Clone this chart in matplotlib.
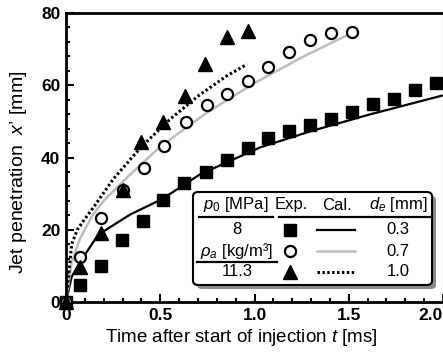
"""
Jet penetration vs time after start of injection
"""
import matplotlib
matplotlib.use('Agg')
import matplotlib.pyplot as plt
from matplotlib.lines import Line2D
from matplotlib.patches import FancyBboxPatch

plt.rcParams['font.family'] = ['Liberation Sans', 'DejaVu Sans']
plt.rcParams['mathtext.fontset'] = 'custom'
plt.rcParams['mathtext.rm'] = 'Liberation Sans'
plt.rcParams['mathtext.it'] = 'Liberation Sans:italic'

# Experimental data, d_e = 0.3 mm (squares)
t_sq = [0, 0.074, 0.185, 0.296, 0.407, 0.513, 0.624, 0.741, 0.852, 0.963,
        1.074, 1.185, 1.296, 1.407, 1.519, 1.630, 1.741, 1.852, 1.963]
x_sq = [0, 4.7, 10.0, 17.2, 22.5, 28.3, 33.0, 36.0, 39.2, 42.5,
        45.3, 47.2, 48.9, 50.6, 52.5, 54.7, 56.1, 58.6, 60.6]

# Experimental data, d_e = 0.7 mm (circles)
t_ci = [0, 0.074, 0.185, 0.300, 0.413, 0.519, 0.635, 0.746, 0.852, 0.963,
        1.074, 1.185, 1.296, 1.407, 1.519]
x_ci = [0, 12.5, 23.2, 31.0, 37.2, 43.3, 49.7, 54.4, 57.5, 61.1,
        65.0, 69.2, 72.5, 74.4, 74.7]

# Experimental data, d_e = 1.0 mm (triangles)
t_tr = [0, 0.074, 0.185, 0.300, 0.400, 0.513, 0.630, 0.735, 0.852, 0.963]
x_tr = [0, 9.7, 19.2, 31.0, 44.2, 49.7, 57.0, 65.8, 73.3, 75.0]

# Calculated curves
t_c03 = [0, 0.03, 0.074, 0.17, 0.34, 0.51, 0.71, 1.03, 1.3, 1.61, 2.0]
x_c03 = [0, 7.0, 11.0, 18.6, 24.2, 28.5, 35.3, 42.8, 47.3, 51.9, 57.2]
t_c07 = [0, 0.03, 0.074, 0.14, 0.2, 0.32, 0.5, 0.75, 1.0, 1.25, 1.52]
x_c07 = [0, 11.0, 17.5, 24.0, 28.0, 34.3, 43.0, 52.5, 60.6, 67.7, 74.6]
t_c10 = [0, 0.03, 0.06, 0.1, 0.15, 0.25, 0.4, 0.55, 0.7, 0.85, 0.96]
x_c10 = [0, 16.0, 20.0, 23.0, 26.5, 34.0, 43.0, 50.5, 57.0, 62.5, 65.8]

diameters = ['0.3', '0.7', '1.0']

W, H = 443, 355
fig = plt.figure(figsize=(W / 100, H / 100), dpi=100)
ax = fig.add_axes([66 / W, 1 - 302 / H, 1 - 66 / W, (302 - 13) / H])


def fpos(px, py):
    return px / W, 1 - py / H


gray = '#bdbdbd'
ax.plot(t_c03, x_c03, color='black', lw=1.6, zorder=2)
ax.plot(t_c07, x_c07, color=gray, lw=1.8, zorder=2)
ax.plot(t_c10, x_c10, color='black', lw=2.2, linestyle=(0, (0.8, 0.8)), zorder=2)

ax.plot(t_sq, x_sq, 's', color='black', ms=8.5, zorder=3, clip_on=False)
ax.plot(t_ci, x_ci, 'o', mfc='white', mec='black', mew=1.6, ms=8, zorder=4, clip_on=False)
ax.plot(t_tr, x_tr, '^', color='black', ms=9.5, zorder=5, clip_on=False)

ax.set_xlim(0, 2.0)
ax.set_ylim(0, 80)
ax.set_xticks([0, 0.5, 1.0, 1.5, 2.0])
ax.set_xticklabels(['0', '0.5', '1.0', '1.5', '2.0'])
ax.set_xticks([i / 10 for i in range(21)], minor=True)
ax.set_yticks([0, 20, 40, 60, 80])
ax.set_yticks([i * 4 for i in range(21)], minor=True)
ax.tick_params(which='both', direction='in', width=1.5, labelsize=12.5, pad=4)
ax.tick_params(which='major', length=6)
ax.tick_params(which='minor', length=3)
for lbl in ax.get_xticklabels() + ax.get_yticklabels():
    lbl.set_fontweight('bold')
ax.get_xticklabels()[-1].set_horizontalalignment('right')

for s in ['left', 'bottom', 'top']:
    ax.spines[s].set_linewidth(2)
ax.spines['right'].set_color('#c8c8c8')
ax.spines['right'].set_linewidth(1)

ax.set_xlabel('Time after start of injection $t$ [ms]', fontsize=13.5, labelpad=1)
ax.xaxis.set_label_coords(0.465, -0.085)
ax.set_ylabel('Jet penetration  $x$\u2019 [mm]', fontsize=14, labelpad=4)
ax.yaxis.set_label_coords(-0.098, 0.45)

# Legend table
x0, y0 = fpos(193, 285)
x1, y1 = fpos(432, 192)
shadow = FancyBboxPatch((x0 + 4 / W, y0 - 4 / H), x1 - x0, y1 - y0,
                        boxstyle='round,pad=0,rounding_size=0.012',
                        transform=fig.transFigure, facecolor='#8a8a8a',
                        edgecolor='none', zorder=10)
box = FancyBboxPatch((x0, y0), x1 - x0, y1 - y0,
                     boxstyle='round,pad=0,rounding_size=0.012',
                     transform=fig.transFigure, facecolor='white',
                     edgecolor='black', linewidth=1.5, zorder=11)
fig.add_artist(shadow)
fig.add_artist(box)

fs = 12
kw = dict(transform=fig.transFigure, ha='center', va='center', fontsize=fs, zorder=12)
fig.text(*fpos(236, 205), '$p_0$ [MPa]', **kw)
fig.text(*fpos(291, 205), 'Exp.', **kw)
fig.text(*fpos(337, 205), 'Cal.', **kw)
fig.text(*fpos(398, 205), '$d_e$ [mm]', **kw)
fig.text(*fpos(237, 230), '8', **kw)
fig.text(*fpos(237, 251), '$\\rho_a$ [kg/m\u00b3]', **kw)
fig.text(*fpos(237, 272), '11.3', **kw)

for (xa, xb, yy) in [(199, 273, 217), (279, 432, 217), (197, 277, 262)]:
    fig.add_artist(Line2D([xa / W, xb / W], [1 - yy / H] * 2, color='black',
                          lw=1.6, transform=fig.transFigure, zorder=12))

rows = [230, 251, 272]
mk = [dict(marker='s', color='black', ms=8.5),
      dict(marker='o', mfc='white', mec='black', mew=1.6, ms=8),
      dict(marker='^', color='black', ms=9.5)]
ls = [dict(color='black', lw=1.6),
      dict(color=gray, lw=1.8),
      dict(color='black', lw=2.2, linestyle=(0, (0.8, 0.8)))]
for yy, m, l, d in zip(rows, mk, ls, diameters):
    fig.add_artist(Line2D([290 / W], [1 - yy / H], linestyle='none',
                          transform=fig.transFigure, zorder=13, **m))
    fig.add_artist(Line2D([317 / W, 355 / W], [1 - yy / H] * 2,
                          transform=fig.transFigure, zorder=13, **l))
    fig.text(*fpos(398, yy), d, **kw)

fig.savefig('out.png', dpi=100)
